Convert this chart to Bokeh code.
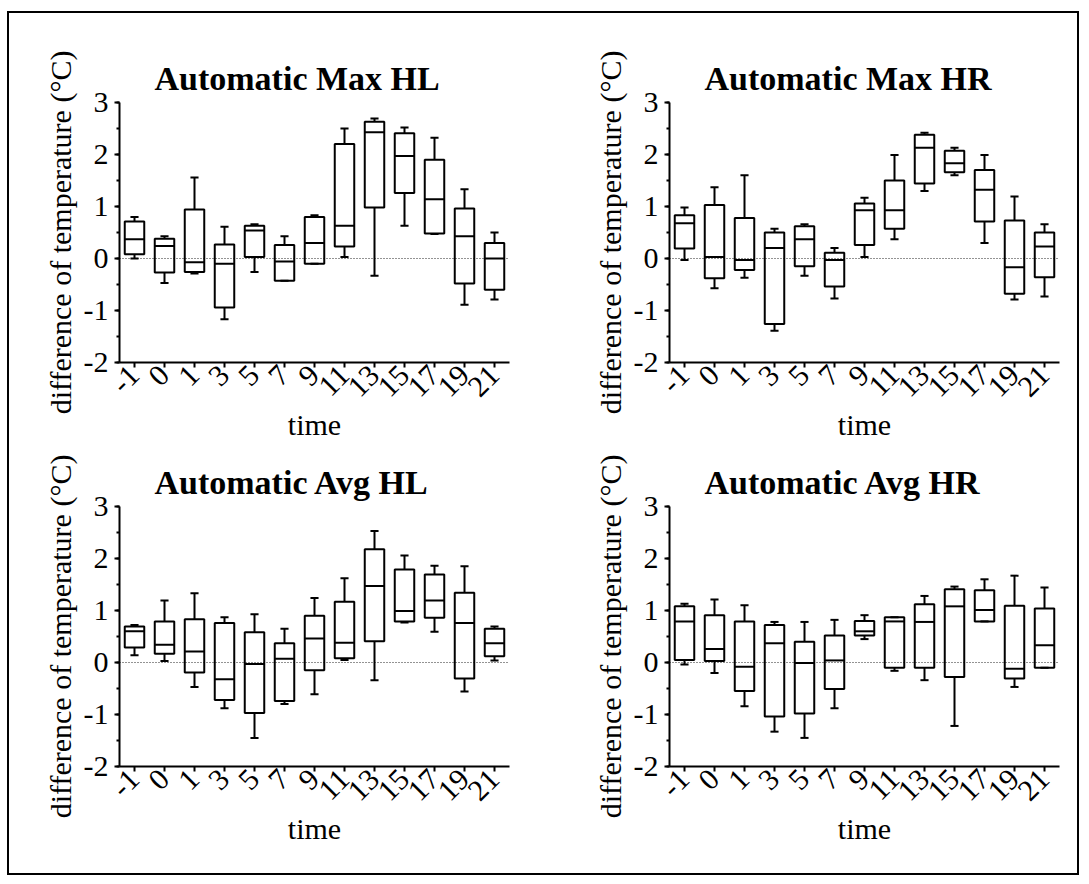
import math
from bokeh.plotting import figure
from bokeh.models import FactorRange, Range1d, SingleIntervalTicker, Span, ColumnDataSource
from bokeh.transform import dodge
from bokeh.layouts import column, row
from bokeh.embed import file_html
from bokeh.resources import INLINE

FONT = "'Liberation Serif', 'Times New Roman', serif"

cats = ["-1", "0", "1", "3", "5", "7", "9", "11", "13", "15", "17", "19", "21"]
y_tick_labels = {-2: "-2", -1: "-1", 0: "0", 1: "1", 2: "2", 3: "3"}

# Automatic Max HL
maxhl_hi = [0.80, 0.43, 1.56, 0.61, 0.66, 0.43, 0.83, 2.50, 2.69, 2.52, 2.32, 1.33, 0.50]
maxhl_q3 = [0.71, 0.38, 0.94, 0.27, 0.63, 0.26, 0.80, 2.20, 2.63, 2.41, 1.90, 0.96, 0.30]
maxhl_med = [0.37, 0.24, -0.07, -0.10, 0.54, -0.06, 0.30, 0.63, 2.43, 1.97, 1.14, 0.43, 0.00]
maxhl_q1 = [0.08, -0.27, -0.26, -0.94, 0.03, -0.43, -0.10, 0.23, 0.98, 1.26, 0.48, -0.48, -0.60]
maxhl_lo = [0.00, -0.47, -0.29, -1.17, -0.26, -0.43, -0.10, 0.03, -0.33, 0.63, 0.47, -0.89, -0.79]

# Automatic Max HR
maxhr_hi = [0.98, 1.37, 1.60, 0.57, 0.66, 0.20, 1.17, 1.99, 2.42, 2.13, 1.99, 1.19, 0.66]
maxhr_q3 = [0.83, 1.03, 0.78, 0.50, 0.62, 0.11, 1.06, 1.50, 2.38, 2.07, 1.70, 0.73, 0.50]
maxhr_med = [0.68, 0.03, -0.03, 0.20, 0.37, -0.03, 0.93, 0.93, 2.13, 1.83, 1.32, -0.17, 0.23]
maxhr_q1 = [0.19, -0.38, -0.22, -1.26, -0.15, -0.54, 0.26, 0.57, 1.44, 1.66, 0.71, -0.68, -0.36]
maxhr_lo = [-0.03, -0.57, -0.37, -1.39, -0.33, -0.77, 0.03, 0.37, 1.30, 1.60, 0.30, -0.79, -0.73]

# Automatic Avg HL
avghl_hi = [0.72, 1.19, 1.33, 0.87, 0.93, 0.65, 1.24, 1.62, 2.53, 2.06, 1.86, 1.85, 0.69]
avghl_q3 = [0.69, 0.79, 0.83, 0.76, 0.58, 0.37, 0.90, 1.17, 2.18, 1.79, 1.69, 1.34, 0.65]
avghl_med = [0.60, 0.34, 0.21, -0.32, -0.03, 0.07, 0.46, 0.38, 1.47, 0.99, 1.19, 0.76, 0.37]
avghl_q1 = [0.29, 0.17, -0.19, -0.72, -0.97, -0.74, -0.15, 0.08, 0.41, 0.79, 0.86, -0.31, 0.12]
avghl_lo = [0.14, 0.03, -0.47, -0.88, -1.45, -0.80, -0.61, 0.05, -0.34, 0.77, 0.59, -0.56, 0.04]

# Automatic Avg HR
avghr_hi = [1.13, 1.21, 1.10, 0.78, 0.78, 0.82, 0.91, 0.87, 1.28, 1.46, 1.60, 1.67, 1.44]
avghr_q3 = [1.08, 0.91, 0.79, 0.72, 0.40, 0.52, 0.80, 0.87, 1.12, 1.41, 1.39, 1.09, 1.04]
avghr_med = [0.79, 0.26, -0.08, 0.37, -0.01, 0.04, 0.60, 0.79, 0.78, 1.08, 1.01, -0.12, 0.33]
avghr_q1 = [0.05, 0.03, -0.55, -1.04, -0.98, -0.51, 0.52, -0.10, -0.10, -0.28, 0.79, -0.31, -0.10]
avghr_lo = [-0.04, -0.20, -0.84, -1.33, -1.45, -0.88, 0.45, -0.16, -0.34, -1.22, 0.79, -0.47, -0.10]

BOX_W = 0.65
CAP_W = 0.27


def make(title, lo, q1, med, q3, hi, width, height, mbl, mbr, mbt, mbb):
    p = figure(x_range=FactorRange(*cats), y_range=Range1d(-2, 3),
               width=width, height=height,
               min_border_left=mbl, min_border_right=mbr,
               min_border_top=mbt, min_border_bottom=mbb,
               output_backend="svg", toolbar_location=None,
               outline_line_color=None, background_fill_color="white",
               border_fill_color="white")
    p.xgrid.visible = False
    p.ygrid.visible = False

    p.title.text = title
    p.title.align = "left"
    p.title.offset = 35
    p.title.standoff = 12
    p.title.text_font = FONT
    p.title.text_font_size = "34px"
    p.title.text_font_style = "bold"
    p.title.text_color = "black"

    src = ColumnDataSource(dict(x=cats, lo=lo, q1=q1, med=med, q3=q3, hi=hi))
    # whiskers
    p.segment(x0="x", x1="x", y0="q3", y1="hi", source=src, line_color="black", line_width=2)
    p.segment(x0="x", x1="x", y0="q1", y1="lo", source=src, line_color="black", line_width=2)
    # caps
    for col in ("hi", "lo"):
        p.segment(x0=dodge("x", -CAP_W / 2, range=p.x_range), x1=dodge("x", CAP_W / 2, range=p.x_range),
                  y0=col, y1=col, source=src, line_color="black", line_width=2)
    # boxes
    p.vbar(x="x", width=BOX_W, top="q3", bottom="q1", source=src,
           fill_color="white", fill_alpha=0, line_color="black", line_width=2)
    # medians
    p.segment(x0=dodge("x", -BOX_W / 2, range=p.x_range), x1=dodge("x", BOX_W / 2, range=p.x_range),
              y0="med", y1="med", source=src, line_color="black", line_width=2)

    p.add_layout(Span(location=0, dimension="width", line_color="black", line_alpha=0.85,
                      line_width=1, line_dash="1 2"))

    yax = p.yaxis[0]
    yax.ticker = SingleIntervalTicker(interval=1, num_minor_ticks=2)
    yax.major_label_overrides = y_tick_labels
    yax.axis_label = "difference of temperature (°C)"
    xax = p.xaxis[0]
    xax.axis_label = "time"
    xax.major_label_orientation = math.pi / 4
    for ax in (xax, yax):
        ax.axis_line_width = 2
        ax.axis_line_color = "black"
        ax.major_tick_line_width = 2
        ax.major_tick_line_color = "black"
        ax.major_tick_out = 5
        ax.major_tick_in = 0
        ax.minor_tick_line_width = 2
        ax.minor_tick_line_color = "black"
        ax.minor_tick_out = 3
        ax.minor_tick_in = 0
        ax.major_label_text_font = FONT
        ax.major_label_text_font_size = "30px"
        ax.major_label_text_color = "black"
        ax.axis_label_text_font = FONT
        ax.axis_label_text_font_size = "30px"
        ax.axis_label_text_font_style = "normal"
        ax.axis_label_text_color = "black"
    yax.major_label_standoff = 6
    yax.axis_label_standoff = 4
    xax.major_label_standoff = 3
    xax.axis_label_standoff = 0
    return p


p1 = make("Automatic Max HL", maxhl_lo, maxhl_q1, maxhl_med, maxhl_q3, maxhl_hi, 551, 431, 110, 51, 89, 82)
p2 = make("Automatic Max HR", maxhr_lo, maxhr_q1, maxhr_med, maxhr_q3, maxhr_hi, 517, 431, 109, 18, 89, 82)
p3 = make("Automatic Avg HL", avghl_lo, avghl_q1, avghl_med, avghl_q3, avghl_hi, 551, 429, 110, 51, 62, 107)
p4 = make("Automatic Avg HR", avghr_lo, avghr_q1, avghr_med, avghr_q3, avghr_hi, 517, 429, 109, 18, 62, 107)

layout = column(row(p1, p2), row(p3, p4),
                styles={"border": "2px solid black", "background-color": "white"},
                margin=(11, 0, 0, 7))

open("out.html", "w").write(file_html(layout, INLINE))
